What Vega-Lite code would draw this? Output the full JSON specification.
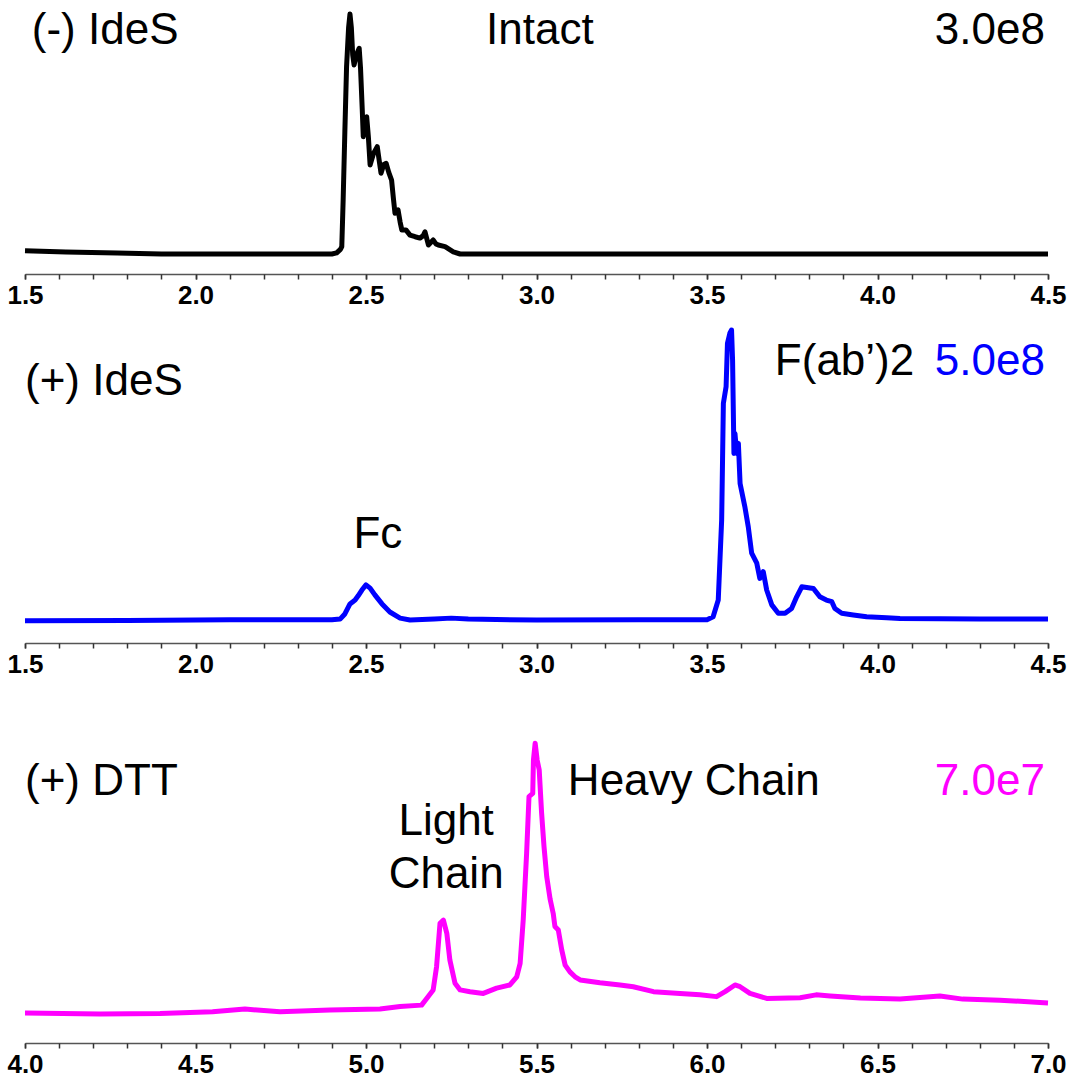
{
  "$schema": "https://vega.github.io/schema/vega-lite/v6.json",
  "background": "white",
  "padding": {"left": 6, "top": 0, "right": 5, "bottom": 0},
  "spacing": 12,
  "config": {
    "view": {"stroke": null},
    "axisX": {
      "title": null, "grid": false, "labelOverlap": false, "labelFlush": false,
      "domainColor": "#555555", "domainWidth": 1.5, "tickColor": "#333333", "tickSize": 5, "tickWidth": 1.5,
      "labelFont": "Liberation Sans", "labelFontWeight": "bold", "labelFontSize": 26, "labelColor": "#000000", "labelPadding": 3
    },
    "text": {"font": "Liberation Sans", "fontSize": 44, "baseline": "alphabetic"}
  },
  "datasets": {
    "intact": [
      {"t": 1.5, "v": 8.5}, {"t": 1.62, "v": 8.0}, {"t": 1.77, "v": 7.7}, {"t": 1.9, "v": 7.3},
      {"t": 2.2, "v": 7.3}, {"t": 2.4, "v": 7.3}, {"t": 2.414, "v": 7.7}, {"t": 2.425, "v": 9.0},
      {"t": 2.429, "v": 10.0}, {"t": 2.433, "v": 27.0}, {"t": 2.438, "v": 52.0}, {"t": 2.443, "v": 75.7},
      {"t": 2.449, "v": 90.0}, {"t": 2.453, "v": 94.9}, {"t": 2.457, "v": 90.0}, {"t": 2.461, "v": 80.0},
      {"t": 2.465, "v": 76.3}, {"t": 2.472, "v": 80.0}, {"t": 2.48, "v": 82.4}, {"t": 2.484, "v": 75.0},
      {"t": 2.489, "v": 60.0}, {"t": 2.492, "v": 50.1}, {"t": 2.497, "v": 56.0}, {"t": 2.502, "v": 57.4},
      {"t": 2.507, "v": 50.0}, {"t": 2.512, "v": 39.8}, {"t": 2.522, "v": 44.0}, {"t": 2.533, "v": 46.5},
      {"t": 2.538, "v": 42.0}, {"t": 2.544, "v": 36.8}, {"t": 2.552, "v": 40.0}, {"t": 2.559, "v": 40.4},
      {"t": 2.567, "v": 37.0}, {"t": 2.575, "v": 34.3}, {"t": 2.58, "v": 28.0}, {"t": 2.585, "v": 22.2},
      {"t": 2.594, "v": 23.4}, {"t": 2.6, "v": 19.0}, {"t": 2.605, "v": 16.1}, {"t": 2.617, "v": 16.1},
      {"t": 2.629, "v": 14.2}, {"t": 2.644, "v": 13.6}, {"t": 2.658, "v": 13.1}, {"t": 2.668, "v": 14.0},
      {"t": 2.673, "v": 15.4}, {"t": 2.678, "v": 13.0}, {"t": 2.683, "v": 10.6}, {"t": 2.697, "v": 12.4},
      {"t": 2.705, "v": 11.0}, {"t": 2.712, "v": 10.6}, {"t": 2.732, "v": 10.0}, {"t": 2.756, "v": 8.1},
      {"t": 2.776, "v": 7.3}, {"t": 3.0, "v": 7.3}, {"t": 3.5, "v": 7.3}, {"t": 4.0, "v": 7.3}, {"t": 4.5, "v": 7.3}
    ],
    "ides": [
      {"t": 1.5, "v": 6.9}, {"t": 1.8, "v": 7.0}, {"t": 2.1, "v": 7.2}, {"t": 2.4, "v": 7.2},
      {"t": 2.424, "v": 7.4}, {"t": 2.438, "v": 9.0}, {"t": 2.453, "v": 12.1}, {"t": 2.468, "v": 13.3},
      {"t": 2.477, "v": 14.6}, {"t": 2.488, "v": 16.4}, {"t": 2.5, "v": 18.0}, {"t": 2.512, "v": 17.0},
      {"t": 2.526, "v": 14.9}, {"t": 2.547, "v": 12.1}, {"t": 2.57, "v": 9.6}, {"t": 2.6, "v": 7.7},
      {"t": 2.629, "v": 7.1}, {"t": 2.7, "v": 7.4}, {"t": 2.75, "v": 7.7}, {"t": 2.8, "v": 7.4},
      {"t": 3.0, "v": 7.1}, {"t": 3.3, "v": 7.2}, {"t": 3.5, "v": 7.2},
      {"t": 3.518, "v": 8.1}, {"t": 3.533, "v": 13.3}, {"t": 3.543, "v": 38.1}, {"t": 3.548, "v": 74.2},
      {"t": 3.556, "v": 79.4}, {"t": 3.56, "v": 92.8}, {"t": 3.567, "v": 95.9}, {"t": 3.572, "v": 96.9},
      {"t": 3.575, "v": 87.6}, {"t": 3.579, "v": 58.7}, {"t": 3.582, "v": 64.9}, {"t": 3.587, "v": 58.7},
      {"t": 3.592, "v": 61.8}, {"t": 3.597, "v": 49.4}, {"t": 3.611, "v": 42.2}, {"t": 3.621, "v": 36.0},
      {"t": 3.631, "v": 27.8}, {"t": 3.646, "v": 24.7}, {"t": 3.655, "v": 20.0}, {"t": 3.665, "v": 22.1},
      {"t": 3.675, "v": 16.4}, {"t": 3.69, "v": 11.8}, {"t": 3.709, "v": 9.2}, {"t": 3.729, "v": 9.2},
      {"t": 3.748, "v": 10.7}, {"t": 3.763, "v": 14.3}, {"t": 3.778, "v": 17.4}, {"t": 3.812, "v": 16.9},
      {"t": 3.831, "v": 14.3}, {"t": 3.85, "v": 13.3}, {"t": 3.866, "v": 12.8}, {"t": 3.875, "v": 10.7},
      {"t": 3.895, "v": 9.2}, {"t": 3.929, "v": 8.7}, {"t": 3.968, "v": 8.1}, {"t": 4.027, "v": 7.8},
      {"t": 4.066, "v": 7.6}, {"t": 4.3, "v": 7.4}, {"t": 4.5, "v": 7.4}
    ],
    "dtt": [
      {"t": 4.0, "v": 8.5}, {"t": 4.22, "v": 8.2}, {"t": 4.396, "v": 8.3}, {"t": 4.55, "v": 8.8},
      {"t": 4.645, "v": 9.6}, {"t": 4.748, "v": 8.8}, {"t": 4.894, "v": 9.3}, {"t": 5.041, "v": 9.6},
      {"t": 5.1, "v": 10.3}, {"t": 5.163, "v": 10.7}, {"t": 5.178, "v": 12.6}, {"t": 5.197, "v": 15.0},
      {"t": 5.207, "v": 21.6}, {"t": 5.217, "v": 33.8}, {"t": 5.227, "v": 34.7}, {"t": 5.237, "v": 31.0},
      {"t": 5.246, "v": 23.4}, {"t": 5.261, "v": 16.9}, {"t": 5.276, "v": 15.0}, {"t": 5.305, "v": 14.5},
      {"t": 5.344, "v": 14.0}, {"t": 5.383, "v": 15.5}, {"t": 5.422, "v": 16.4}, {"t": 5.442, "v": 18.7},
      {"t": 5.452, "v": 22.5}, {"t": 5.461, "v": 34.7}, {"t": 5.471, "v": 53.6}, {"t": 5.478, "v": 69.6},
      {"t": 5.489, "v": 70.5}, {"t": 5.491, "v": 79.9}, {"t": 5.496, "v": 84.7}, {"t": 5.502, "v": 79.9},
      {"t": 5.508, "v": 77.1}, {"t": 5.515, "v": 64.9}, {"t": 5.522, "v": 55.5}, {"t": 5.53, "v": 47.0},
      {"t": 5.54, "v": 40.6}, {"t": 5.549, "v": 36.6}, {"t": 5.554, "v": 32.9}, {"t": 5.564, "v": 31.9},
      {"t": 5.574, "v": 26.3}, {"t": 5.584, "v": 22.0}, {"t": 5.598, "v": 20.1}, {"t": 5.613, "v": 18.7},
      {"t": 5.628, "v": 17.8}, {"t": 5.686, "v": 17.0}, {"t": 5.745, "v": 16.4}, {"t": 5.784, "v": 15.9},
      {"t": 5.843, "v": 14.5}, {"t": 5.921, "v": 14.0}, {"t": 5.979, "v": 13.6}, {"t": 6.028, "v": 13.1},
      {"t": 6.053, "v": 14.5}, {"t": 6.082, "v": 16.4}, {"t": 6.097, "v": 15.9}, {"t": 6.126, "v": 14.0},
      {"t": 6.175, "v": 12.6}, {"t": 6.273, "v": 12.8}, {"t": 6.32, "v": 13.6}, {"t": 6.361, "v": 13.3},
      {"t": 6.45, "v": 12.7}, {"t": 6.566, "v": 12.4}, {"t": 6.683, "v": 13.3}, {"t": 6.75, "v": 12.4},
      {"t": 6.859, "v": 12.1}, {"t": 7.0, "v": 11.3}
    ]
  },
  "vconcat": [
    {
      "width": 1023,
      "height": 274,
      "resolve": {"axis": {"x": "independent"}},
      "layer": [
        {
          "data": {"name": "intact"},
          "mark": {"type": "line", "color": "#000000", "strokeWidth": 5, "strokeJoin": "round"},
          "encoding": {
            "x": {"field": "t", "type": "quantitative",
                  "scale": {"domain": [1.5, 4.5], "nice": false, "zero": false},
                  "axis": {"orient": "bottom", "values": [1.5, 2.0, 2.5, 3.0, 3.5, 4.0, 4.5], "format": ".1f"}},
            "y": {"field": "v", "type": "quantitative", "scale": {"domain": [0, 100], "nice": false}, "axis": null}
          }
        },
        {
          "data": {"values": [
            {"t": 1.52, "v": 84, "txt": "(-) IdeS", "pos": "left"},
            {"t": 3.01, "v": 84, "txt": "Intact", "pos": "center"},
            {"t": 4.491, "v": 84, "txt": "3.0e8", "pos": "right"}
          ]},
          "encoding": {
            "x": {"field": "t", "type": "quantitative",
                  "axis": {"orient": "bottom", "values": [1.5,1.6,1.7,1.8,1.9,2.0,2.1,2.2,2.3,2.4,2.5,2.6,2.7,2.8,2.9,3.0,3.1,3.2,3.3,3.4,3.5,3.6,3.7,3.8,3.9,4.0,4.1,4.2,4.3,4.4,4.5],
                           "labels": false, "domain": false}},
            "y": {"field": "v", "type": "quantitative"},
            "text": {"field": "txt"}
          },
          "layer": [
            {"transform": [{"filter": "datum.pos == 'left'"}], "mark": {"type": "text", "align": "left", "color": "#000000"}},
            {"transform": [{"filter": "datum.pos == 'center'"}], "mark": {"type": "text", "align": "center", "color": "#000000"}},
            {"transform": [{"filter": "datum.pos == 'right'"}], "mark": {"type": "text", "align": "right", "color": "#000000"}}
          ]
        }
      ]
    },
    {
      "width": 1023,
      "height": 323,
      "resolve": {"axis": {"x": "independent"}},
      "layer": [
        {
          "data": {"name": "ides"},
          "mark": {"type": "line", "color": "#0000ff", "strokeWidth": 5, "strokeJoin": "round"},
          "encoding": {
            "x": {"field": "t", "type": "quantitative",
                  "scale": {"domain": [1.5, 4.5], "nice": false, "zero": false},
                  "axis": {"orient": "bottom", "values": [1.5, 2.0, 2.5, 3.0, 3.5, 4.0, 4.5], "format": ".1f"}},
            "y": {"field": "v", "type": "quantitative", "scale": {"domain": [0, 100], "nice": false}, "axis": null}
          }
        },
        {
          "data": {"values": [
            {"t": 1.5, "v": 76.8, "txt": "(+) IdeS", "pos": "left"},
            {"t": 3.699, "v": 83, "txt": "F(ab’)2", "pos": "left"},
            {"t": 2.535, "v": 29.4, "txt": "Fc", "pos": "center"},
            {"t": 4.491, "v": 83, "txt": "5.0e8", "pos": "scale"}
          ]},
          "encoding": {
            "x": {"field": "t", "type": "quantitative",
                  "axis": {"orient": "bottom", "values": [1.5,1.6,1.7,1.8,1.9,2.0,2.1,2.2,2.3,2.4,2.5,2.6,2.7,2.8,2.9,3.0,3.1,3.2,3.3,3.4,3.5,3.6,3.7,3.8,3.9,4.0,4.1,4.2,4.3,4.4,4.5],
                           "labels": false, "domain": false}},
            "y": {"field": "v", "type": "quantitative"},
            "text": {"field": "txt"}
          },
          "layer": [
            {"transform": [{"filter": "datum.pos == 'left'"}], "mark": {"type": "text", "align": "left", "color": "#000000"}},
            {"transform": [{"filter": "datum.pos == 'center'"}], "mark": {"type": "text", "align": "center", "color": "#000000"}},
            {"transform": [{"filter": "datum.pos == 'scale'"}], "mark": {"type": "text", "align": "right", "color": "#0000ff"}}
          ]
        }
      ]
    },
    {
      "width": 1023,
      "height": 354,
      "resolve": {"axis": {"x": "independent"}},
      "layer": [
        {
          "data": {"name": "dtt"},
          "mark": {"type": "line", "color": "#ff00ff", "strokeWidth": 5, "strokeJoin": "round"},
          "encoding": {
            "x": {"field": "t", "type": "quantitative",
                  "scale": {"domain": [4.0, 7.0], "nice": false, "zero": false},
                  "axis": {"orient": "bottom", "values": [4.0, 4.5, 5.0, 5.5, 6.0, 6.5, 7.0], "format": ".1f"}},
            "y": {"field": "v", "type": "quantitative", "scale": {"domain": [0, 100], "nice": false}, "axis": null}
          }
        },
        {
          "data": {"values": [
            {"t": 4.0, "v": 70.1, "txt": "(+) DTT", "pos": "left"},
            {"t": 5.235, "v": 58.8, "txt": "Light", "pos": "center"},
            {"t": 5.235, "v": 43.8, "txt": "Chain", "pos": "center"},
            {"t": 5.592, "v": 70.1, "txt": "Heavy Chain", "pos": "left"},
            {"t": 6.991, "v": 70.1, "txt": "7.0e7", "pos": "scale"}
          ]},
          "encoding": {
            "x": {"field": "t", "type": "quantitative",
                  "axis": {"orient": "bottom", "values": [4.0,4.1,4.2,4.3,4.4,4.5,4.6,4.7,4.8,4.9,5.0,5.1,5.2,5.3,5.4,5.5,5.6,5.7,5.8,5.9,6.0,6.1,6.2,6.3,6.4,6.5,6.6,6.7,6.8,6.9,7.0],
                           "labels": false, "domain": false}},
            "y": {"field": "v", "type": "quantitative"},
            "text": {"field": "txt"}
          },
          "layer": [
            {"transform": [{"filter": "datum.pos == 'left'"}], "mark": {"type": "text", "align": "left", "color": "#000000"}},
            {"transform": [{"filter": "datum.pos == 'center'"}], "mark": {"type": "text", "align": "center", "color": "#000000"}},
            {"transform": [{"filter": "datum.pos == 'scale'"}], "mark": {"type": "text", "align": "right", "color": "#ff00ff"}}
          ]
        }
      ]
    }
  ]
}
